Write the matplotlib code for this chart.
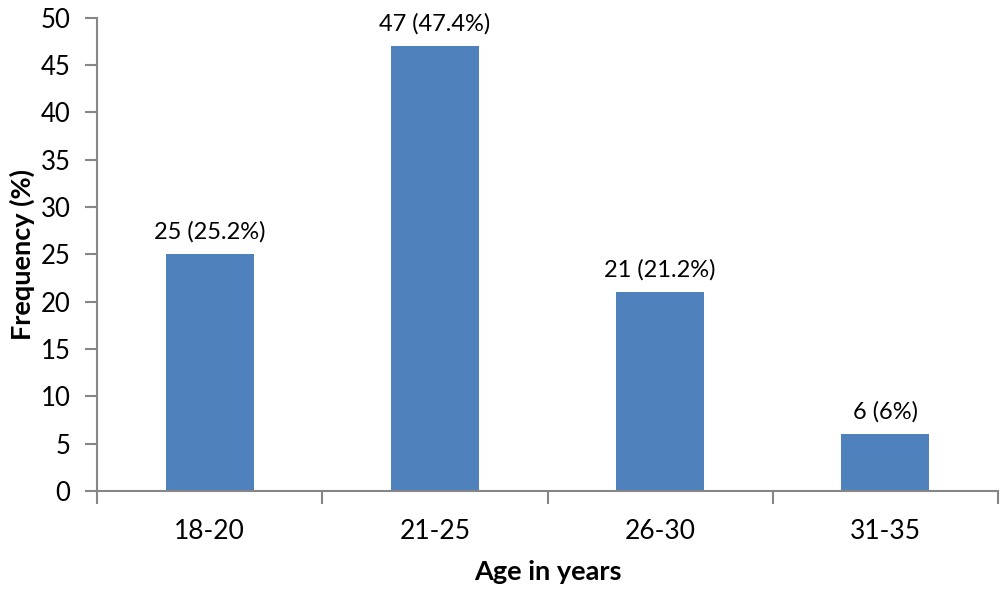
import matplotlib
matplotlib.use("Agg")
import matplotlib.pyplot as plt
import numpy as np

plt.rcParams['font.family'] = ['Lato', 'DejaVu Sans']

categories = ["18-20", "21-25", "26-30", "31-35"]
counts = [25, 47, 21, 6]
labels = ["25 (25.2%)", "47 (47.4%)", "21 (21.2%)", "6 (6%)"]

fig = plt.figure(figsize=(10, 5.93), dpi=100)
ax = fig.add_axes([0.097, 0.172, 0.901, 0.798])

x = np.arange(len(categories))
ax.bar(x, counts, width=0.39, color="#4F81BD", zorder=2)
for xi, c, lab in zip(x, counts, labels):
    ax.text(xi, c + 1.2, lab, ha="center", va="bottom", fontsize=17)

ax.set_xlim(-0.5, len(categories) - 0.5)
ax.set_ylim(0, 50)
ax.set_yticks(range(0, 51, 5))
ax.set_xticks(x)
ax.set_xticklabels(categories)
ax.set_xticks(np.arange(-0.5, len(categories)), minor=True)
ax.tick_params(axis="x", which="major", length=0, pad=20, labelsize=19)
ax.tick_params(axis="x", which="minor", length=9, color="#868686", width=1.5)
ax.tick_params(axis="y", length=9, color="#868686", width=1.5, labelsize=18.5, pad=10)

for s in ["top", "right"]:
    ax.spines[s].set_visible(False)
for s in ["left", "bottom"]:
    ax.spines[s].set_color("#868686")
    ax.spines[s].set_linewidth(1.5)

ax.set_ylabel("Frequency (%)", fontsize=19.5, fontweight="bold", labelpad=4)
ax.set_xlabel("Age in years", fontsize=19.5, fontweight="bold", labelpad=12)

fig.savefig("out.png", dpi=100)
